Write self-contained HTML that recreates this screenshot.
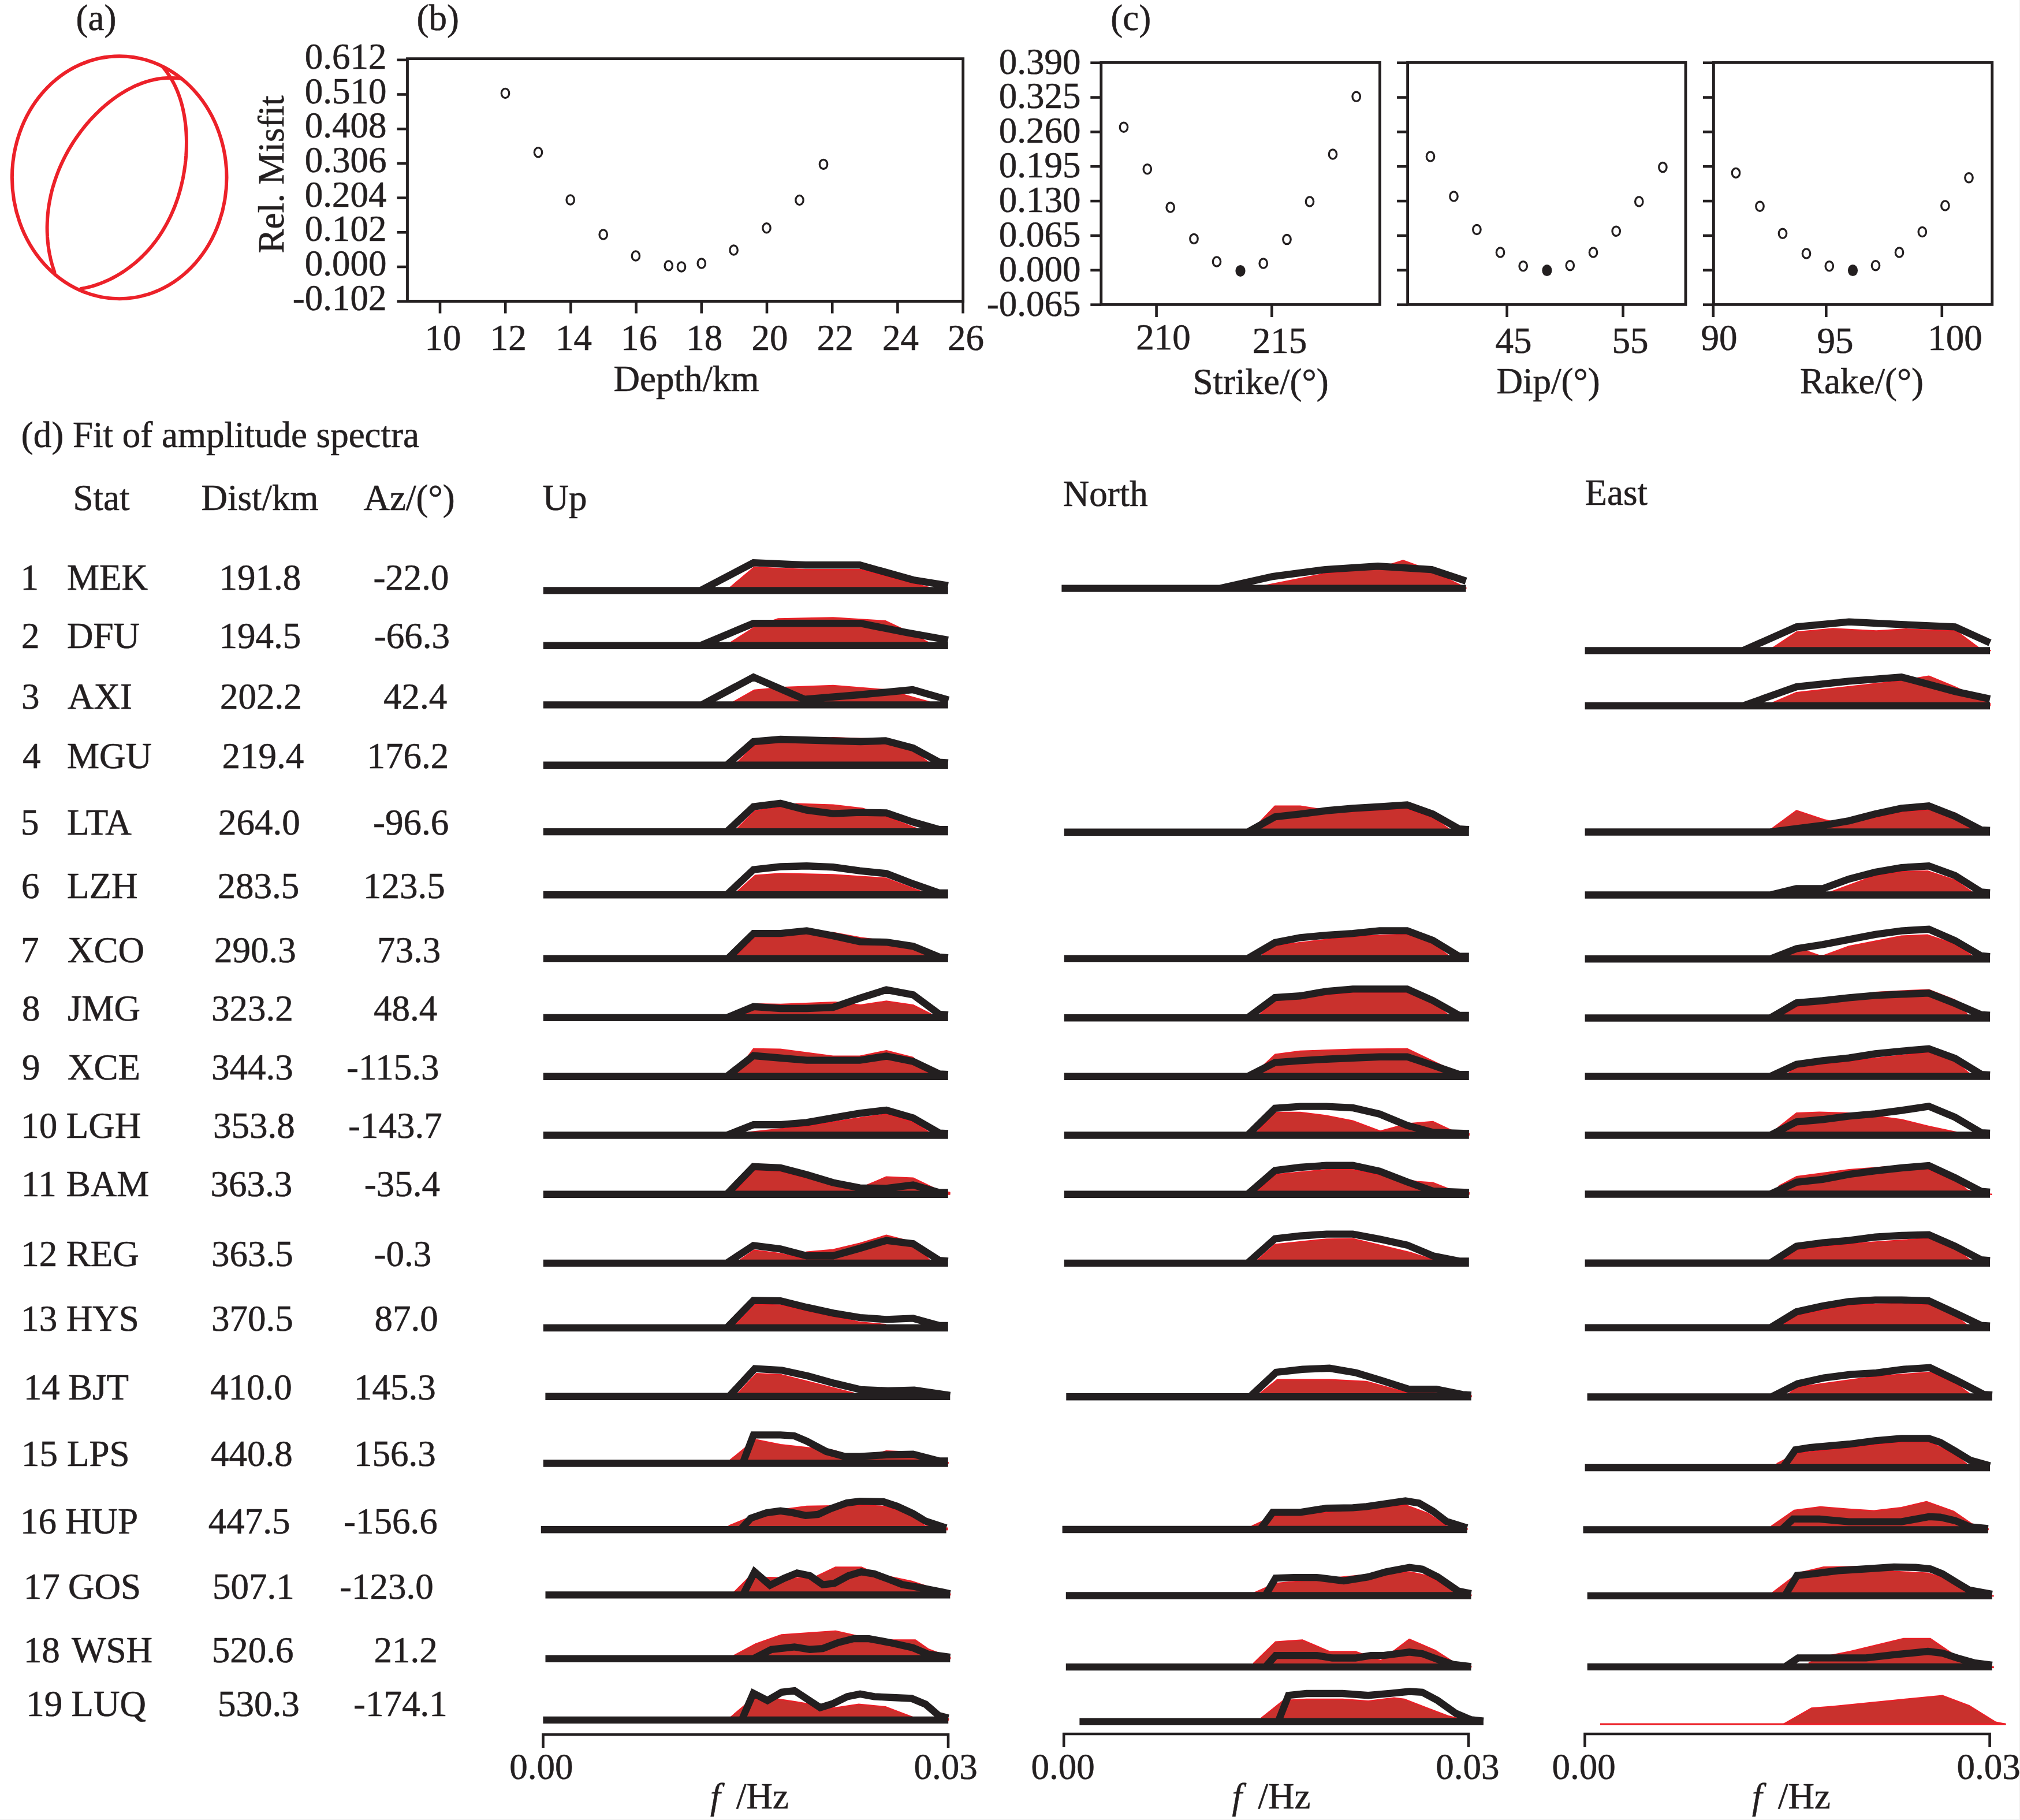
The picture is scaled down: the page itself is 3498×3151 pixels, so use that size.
<!DOCTYPE html>
<html><head><meta charset="utf-8"><title>figure</title>
<style>
html,body{margin:0;padding:0;background:#fff;}
body{width:3498px;height:3151px;overflow:hidden;}
svg{display:block;}
text{font-family:"Liberation Serif", serif;fill:#231f20;stroke:#231f20;stroke-width:0.6px;}
</style></head>
<body>
<svg width="3498" height="3151" viewBox="0 0 3498 3151">
<rect x="0" y="0" width="3498" height="3151" fill="#ffffff"/>
<rect x="3496" y="0" width="2" height="3151" fill="#f4f4f4"/>
<rect x="0" y="3149" width="3498" height="2" fill="#f4f4f4"/>
<ellipse cx="206.7" cy="307.2" rx="185.8" ry="210" fill="none" stroke="#ec2129" stroke-width="6"/>
<path d="M282.1,116.2 L287.4,122.7 L292.2,129.5 L296.5,136.4 L300.5,143.5 L304.1,150.7 L307.3,158.1 L310.1,165.6 L312.7,173.2 L314.9,181.0 L316.8,188.8 L318.4,196.6 L319.8,204.6 L320.9,212.6 L321.8,220.6 L322.4,228.7 L322.8,236.8 L323.0,245.0 L322.9,253.1 L322.7,261.3 L322.2,269.4 L321.5,277.5 L320.6,285.6 L319.4,293.7 L318.1,301.8 L316.6,309.8 L314.8,317.7 L312.9,325.6 L310.7,333.4 L308.4,341.2 L305.8,348.9 L303.0,356.5 L299.9,364.0 L296.7,371.4 L293.2,378.7 L289.5,385.9 L285.6,392.9 L281.5,399.8 L277.1,406.6 L272.6,413.3 L267.8,419.7 L262.7,426.1 L257.5,432.2 L252.0,438.2 L246.3,444.0 L240.4,449.5 L234.3,454.9 L227.9,460.0 L221.4,464.9 L214.7,469.6 L207.8,474.0 L200.8,478.1 L193.6,482.0 L186.2,485.6 L178.8,488.8 L171.2,491.7 L163.5,494.3 L155.7,496.6 L147.9,498.4 L140.1,499.9" fill="none" stroke="#ec2129" stroke-width="6" stroke-linecap="round" stroke-linejoin="round"/>
<path d="M94.4,471.1 L91.9,463.6 L89.6,456.0 L87.7,448.4 L86.0,440.6 L84.6,432.9 L83.5,425.1 L82.6,417.2 L82.0,409.4 L81.7,401.5 L81.6,393.6 L81.8,385.8 L82.2,378.0 L82.8,370.1 L83.7,362.4 L84.8,354.6 L86.2,346.9 L87.7,339.2 L89.5,331.6 L91.5,324.1 L93.8,316.6 L96.2,309.2 L98.9,301.8 L101.7,294.5 L104.8,287.3 L108.0,280.2 L111.5,273.1 L115.1,266.2 L118.9,259.3 L122.9,252.6 L127.1,245.9 L131.5,239.3 L136.0,232.9 L140.7,226.5 L145.6,220.3 L150.6,214.2 L155.8,208.3 L161.2,202.5 L166.7,196.8 L172.4,191.3 L178.2,186.0 L184.2,180.8 L190.3,175.9 L196.5,171.1 L202.9,166.6 L209.5,162.3 L216.1,158.2 L222.9,154.4 L229.9,150.8 L236.9,147.6 L244.1,144.7 L251.4,142.1 L258.8,139.8 L266.4,138.0 L274.0,136.5 L281.8,135.5 L289.7,134.9 L297.7,134.9 L305.8,135.3 L314.0,136.3" fill="none" stroke="#ec2129" stroke-width="6" stroke-linecap="round" stroke-linejoin="round"/>
<text x="131.5" y="52.0" font-size="63">(a)</text>
<text x="721.5" y="52.0" font-size="63">(b)</text>
<text x="1923.3" y="52.0" font-size="63">(c)</text>
<path d="M705.5,521.5 L705.5,101.7 L1667.7,101.7 L1667.7,521.5 Z" fill="none" stroke="#231f20" stroke-width="4.8" stroke-linejoin="miter"/>
<line x1="687.5" y1="103.8" x2="705.5" y2="103.8" stroke="#231f20" stroke-width="4.6" stroke-linecap="butt"/>
<text x="669.5" y="118.8" text-anchor="end" font-size="63">0.612</text>
<line x1="687.5" y1="163.5" x2="705.5" y2="163.5" stroke="#231f20" stroke-width="4.6" stroke-linecap="butt"/>
<text x="669.5" y="178.5" text-anchor="end" font-size="63">0.510</text>
<line x1="687.5" y1="223.2" x2="705.5" y2="223.2" stroke="#231f20" stroke-width="4.6" stroke-linecap="butt"/>
<text x="669.5" y="238.2" text-anchor="end" font-size="63">0.408</text>
<line x1="687.5" y1="282.9" x2="705.5" y2="282.9" stroke="#231f20" stroke-width="4.6" stroke-linecap="butt"/>
<text x="669.5" y="297.9" text-anchor="end" font-size="63">0.306</text>
<line x1="687.5" y1="342.6" x2="705.5" y2="342.6" stroke="#231f20" stroke-width="4.6" stroke-linecap="butt"/>
<text x="669.5" y="357.6" text-anchor="end" font-size="63">0.204</text>
<line x1="687.5" y1="402.3" x2="705.5" y2="402.3" stroke="#231f20" stroke-width="4.6" stroke-linecap="butt"/>
<text x="669.5" y="417.3" text-anchor="end" font-size="63">0.102</text>
<line x1="687.5" y1="462.0" x2="705.5" y2="462.0" stroke="#231f20" stroke-width="4.6" stroke-linecap="butt"/>
<text x="669.5" y="477.0" text-anchor="end" font-size="63">0.000</text>
<line x1="687.5" y1="521.7" x2="705.5" y2="521.7" stroke="#231f20" stroke-width="4.6" stroke-linecap="butt"/>
<text x="669.5" y="536.7" text-anchor="end" font-size="63">-0.102</text>
<line x1="762.0" y1="521.5" x2="762.0" y2="542.5" stroke="#231f20" stroke-width="4.6" stroke-linecap="butt"/>
<text x="767.0" y="606.0" text-anchor="middle" font-size="63">10</text>
<line x1="875.2" y1="521.5" x2="875.2" y2="542.5" stroke="#231f20" stroke-width="4.6" stroke-linecap="butt"/>
<text x="880.2" y="606.0" text-anchor="middle" font-size="63">12</text>
<line x1="988.4" y1="521.5" x2="988.4" y2="542.5" stroke="#231f20" stroke-width="4.6" stroke-linecap="butt"/>
<text x="993.4" y="606.0" text-anchor="middle" font-size="63">14</text>
<line x1="1101.6" y1="521.5" x2="1101.6" y2="542.5" stroke="#231f20" stroke-width="4.6" stroke-linecap="butt"/>
<text x="1106.6" y="606.0" text-anchor="middle" font-size="63">16</text>
<line x1="1214.8" y1="521.5" x2="1214.8" y2="542.5" stroke="#231f20" stroke-width="4.6" stroke-linecap="butt"/>
<text x="1219.8" y="606.0" text-anchor="middle" font-size="63">18</text>
<line x1="1328.0" y1="521.5" x2="1328.0" y2="542.5" stroke="#231f20" stroke-width="4.6" stroke-linecap="butt"/>
<text x="1333.0" y="606.0" text-anchor="middle" font-size="63">20</text>
<line x1="1441.2" y1="521.5" x2="1441.2" y2="542.5" stroke="#231f20" stroke-width="4.6" stroke-linecap="butt"/>
<text x="1446.2" y="606.0" text-anchor="middle" font-size="63">22</text>
<line x1="1554.4" y1="521.5" x2="1554.4" y2="542.5" stroke="#231f20" stroke-width="4.6" stroke-linecap="butt"/>
<text x="1559.4" y="606.0" text-anchor="middle" font-size="63">24</text>
<line x1="1667.6" y1="521.5" x2="1667.6" y2="542.5" stroke="#231f20" stroke-width="4.6" stroke-linecap="butt"/>
<text x="1672.6" y="606.0" text-anchor="middle" font-size="63">26</text>
<text transform="translate(491,302) rotate(-90)" text-anchor="middle" font-size="63">Rel. Misfit</text>
<text x="1062.5" y="677.0" font-size="63">Depth/km</text>
<ellipse cx="875" cy="161.5" rx="6.7" ry="8.1" fill="none" stroke="#231f20" stroke-width="3.3"/>
<ellipse cx="932" cy="263.8" rx="6.7" ry="8.1" fill="none" stroke="#231f20" stroke-width="3.3"/>
<ellipse cx="987.7" cy="346" rx="6.7" ry="8.1" fill="none" stroke="#231f20" stroke-width="3.3"/>
<ellipse cx="1044.7" cy="406" rx="6.7" ry="8.1" fill="none" stroke="#231f20" stroke-width="3.3"/>
<ellipse cx="1100.9" cy="443" rx="6.7" ry="8.1" fill="none" stroke="#231f20" stroke-width="3.3"/>
<ellipse cx="1157.8" cy="460" rx="6.7" ry="8.1" fill="none" stroke="#231f20" stroke-width="3.3"/>
<ellipse cx="1180" cy="462" rx="6.7" ry="8.1" fill="none" stroke="#231f20" stroke-width="3.3"/>
<ellipse cx="1214.8" cy="456" rx="6.7" ry="8.1" fill="none" stroke="#231f20" stroke-width="3.3"/>
<ellipse cx="1270.6" cy="433" rx="6.7" ry="8.1" fill="none" stroke="#231f20" stroke-width="3.3"/>
<ellipse cx="1327.5" cy="394.8" rx="6.7" ry="8.1" fill="none" stroke="#231f20" stroke-width="3.3"/>
<ellipse cx="1384.5" cy="346.5" rx="6.7" ry="8.1" fill="none" stroke="#231f20" stroke-width="3.3"/>
<ellipse cx="1426" cy="284.4" rx="6.7" ry="8.1" fill="none" stroke="#231f20" stroke-width="3.3"/>
<path d="M1906.8,527.3 L1906.8,108.3 L2389.5,108.3 L2389.5,527.3 Z" fill="none" stroke="#231f20" stroke-width="4.8"/>
<line x1="1888.3" y1="108.7" x2="1906.8" y2="108.7" stroke="#231f20" stroke-width="4.6" stroke-linecap="butt"/>
<line x1="1888.3" y1="168.6" x2="1906.8" y2="168.6" stroke="#231f20" stroke-width="4.6" stroke-linecap="butt"/>
<line x1="1888.3" y1="228.4" x2="1906.8" y2="228.4" stroke="#231f20" stroke-width="4.6" stroke-linecap="butt"/>
<line x1="1888.3" y1="288.2" x2="1906.8" y2="288.2" stroke="#231f20" stroke-width="4.6" stroke-linecap="butt"/>
<line x1="1888.3" y1="348.1" x2="1906.8" y2="348.1" stroke="#231f20" stroke-width="4.6" stroke-linecap="butt"/>
<line x1="1888.3" y1="407.9" x2="1906.8" y2="407.9" stroke="#231f20" stroke-width="4.6" stroke-linecap="butt"/>
<line x1="1888.3" y1="467.8" x2="1906.8" y2="467.8" stroke="#231f20" stroke-width="4.6" stroke-linecap="butt"/>
<line x1="1888.3" y1="527.6" x2="1906.8" y2="527.6" stroke="#231f20" stroke-width="4.6" stroke-linecap="butt"/>
<path d="M2437.6,527.3 L2437.6,108.3 L2919,108.3 L2919,527.3 Z" fill="none" stroke="#231f20" stroke-width="4.8"/>
<line x1="2419.1" y1="108.7" x2="2437.6" y2="108.7" stroke="#231f20" stroke-width="4.6" stroke-linecap="butt"/>
<line x1="2419.1" y1="168.6" x2="2437.6" y2="168.6" stroke="#231f20" stroke-width="4.6" stroke-linecap="butt"/>
<line x1="2419.1" y1="228.4" x2="2437.6" y2="228.4" stroke="#231f20" stroke-width="4.6" stroke-linecap="butt"/>
<line x1="2419.1" y1="288.2" x2="2437.6" y2="288.2" stroke="#231f20" stroke-width="4.6" stroke-linecap="butt"/>
<line x1="2419.1" y1="348.1" x2="2437.6" y2="348.1" stroke="#231f20" stroke-width="4.6" stroke-linecap="butt"/>
<line x1="2419.1" y1="407.9" x2="2437.6" y2="407.9" stroke="#231f20" stroke-width="4.6" stroke-linecap="butt"/>
<line x1="2419.1" y1="467.8" x2="2437.6" y2="467.8" stroke="#231f20" stroke-width="4.6" stroke-linecap="butt"/>
<line x1="2419.1" y1="527.6" x2="2437.6" y2="527.6" stroke="#231f20" stroke-width="4.6" stroke-linecap="butt"/>
<path d="M2967.4,527.3 L2967.4,108.3 L3449.8,108.3 L3449.8,527.3 Z" fill="none" stroke="#231f20" stroke-width="4.8"/>
<line x1="2948.9" y1="108.7" x2="2967.4" y2="108.7" stroke="#231f20" stroke-width="4.6" stroke-linecap="butt"/>
<line x1="2948.9" y1="168.6" x2="2967.4" y2="168.6" stroke="#231f20" stroke-width="4.6" stroke-linecap="butt"/>
<line x1="2948.9" y1="228.4" x2="2967.4" y2="228.4" stroke="#231f20" stroke-width="4.6" stroke-linecap="butt"/>
<line x1="2948.9" y1="288.2" x2="2967.4" y2="288.2" stroke="#231f20" stroke-width="4.6" stroke-linecap="butt"/>
<line x1="2948.9" y1="348.1" x2="2967.4" y2="348.1" stroke="#231f20" stroke-width="4.6" stroke-linecap="butt"/>
<line x1="2948.9" y1="407.9" x2="2967.4" y2="407.9" stroke="#231f20" stroke-width="4.6" stroke-linecap="butt"/>
<line x1="2948.9" y1="467.8" x2="2967.4" y2="467.8" stroke="#231f20" stroke-width="4.6" stroke-linecap="butt"/>
<line x1="2948.9" y1="527.6" x2="2967.4" y2="527.6" stroke="#231f20" stroke-width="4.6" stroke-linecap="butt"/>
<text x="1871.5" y="127.5" text-anchor="end" font-size="63">0.390</text>
<text x="1871.5" y="187.3" text-anchor="end" font-size="63">0.325</text>
<text x="1871.5" y="247.2" text-anchor="end" font-size="63">0.260</text>
<text x="1871.5" y="307.1" text-anchor="end" font-size="63">0.195</text>
<text x="1871.5" y="366.9" text-anchor="end" font-size="63">0.130</text>
<text x="1871.5" y="426.8" text-anchor="end" font-size="63">0.065</text>
<text x="1871.5" y="486.6" text-anchor="end" font-size="63">0.000</text>
<text x="1871.5" y="546.5" text-anchor="end" font-size="63">-0.065</text>
<line x1="2002.6" y1="527.3" x2="2002.6" y2="549.0" stroke="#231f20" stroke-width="4.6" stroke-linecap="butt"/>
<text x="2014.6" y="604.5" text-anchor="middle" font-size="63">210</text>
<line x1="2202.4" y1="527.3" x2="2202.4" y2="549.0" stroke="#231f20" stroke-width="4.6" stroke-linecap="butt"/>
<text x="2216.0" y="611.0" text-anchor="middle" font-size="63">215</text>
<line x1="2609.6" y1="527.3" x2="2609.6" y2="549.0" stroke="#231f20" stroke-width="4.6" stroke-linecap="butt"/>
<text x="2621.0" y="610.5" text-anchor="middle" font-size="63">45</text>
<line x1="2810.6" y1="527.3" x2="2810.6" y2="549.0" stroke="#231f20" stroke-width="4.6" stroke-linecap="butt"/>
<text x="2823.0" y="611.0" text-anchor="middle" font-size="63">55</text>
<line x1="2966.8" y1="527.3" x2="2966.8" y2="549.0" stroke="#231f20" stroke-width="4.6" stroke-linecap="butt"/>
<text x="2977.0" y="605.5" text-anchor="middle" font-size="63">90</text>
<line x1="3162.3" y1="527.3" x2="3162.3" y2="549.0" stroke="#231f20" stroke-width="4.6" stroke-linecap="butt"/>
<text x="3178.0" y="611.0" text-anchor="middle" font-size="63">95</text>
<line x1="3362.8" y1="527.3" x2="3362.8" y2="549.0" stroke="#231f20" stroke-width="4.6" stroke-linecap="butt"/>
<text x="3385.6" y="605.5" text-anchor="middle" font-size="63">100</text>
<text x="2065.5" y="682.0" font-size="63">Strike/(°)</text>
<text x="2591.5" y="681.0" font-size="63">Dip/(°)</text>
<text x="3117.0" y="681.0" font-size="63">Rake/(°)</text>
<ellipse cx="1946" cy="220.3" rx="6.7" ry="8.1" fill="none" stroke="#231f20" stroke-width="3.3"/>
<ellipse cx="1986.8" cy="292.7" rx="6.7" ry="8.1" fill="none" stroke="#231f20" stroke-width="3.3"/>
<ellipse cx="2026.7" cy="359" rx="6.7" ry="8.1" fill="none" stroke="#231f20" stroke-width="3.3"/>
<ellipse cx="2067.5" cy="413.4" rx="6.7" ry="8.1" fill="none" stroke="#231f20" stroke-width="3.3"/>
<ellipse cx="2107" cy="453" rx="6.7" ry="8.1" fill="none" stroke="#231f20" stroke-width="3.3"/>
<ellipse cx="2148" cy="468.9" rx="8.6" ry="10" fill="#231f20"/>
<ellipse cx="2187.7" cy="456" rx="6.7" ry="8.1" fill="none" stroke="#231f20" stroke-width="3.3"/>
<ellipse cx="2228.5" cy="414.6" rx="6.7" ry="8.1" fill="none" stroke="#231f20" stroke-width="3.3"/>
<ellipse cx="2268" cy="349" rx="6.7" ry="8.1" fill="none" stroke="#231f20" stroke-width="3.3"/>
<ellipse cx="2308" cy="267" rx="6.7" ry="8.1" fill="none" stroke="#231f20" stroke-width="3.3"/>
<ellipse cx="2348.7" cy="167.3" rx="6.7" ry="8.1" fill="none" stroke="#231f20" stroke-width="3.3"/>
<ellipse cx="2477" cy="271" rx="6.7" ry="8.1" fill="none" stroke="#231f20" stroke-width="3.3"/>
<ellipse cx="2517.5" cy="340" rx="6.7" ry="8.1" fill="none" stroke="#231f20" stroke-width="3.3"/>
<ellipse cx="2557.4" cy="397.5" rx="6.7" ry="8.1" fill="none" stroke="#231f20" stroke-width="3.3"/>
<ellipse cx="2598" cy="437" rx="6.7" ry="8.1" fill="none" stroke="#231f20" stroke-width="3.3"/>
<ellipse cx="2637.7" cy="460.8" rx="6.7" ry="8.1" fill="none" stroke="#231f20" stroke-width="3.3"/>
<ellipse cx="2678.9" cy="468.1" rx="8.6" ry="10" fill="#231f20"/>
<ellipse cx="2718.8" cy="459.7" rx="6.7" ry="8.1" fill="none" stroke="#231f20" stroke-width="3.3"/>
<ellipse cx="2759" cy="437" rx="6.7" ry="8.1" fill="none" stroke="#231f20" stroke-width="3.3"/>
<ellipse cx="2798.7" cy="400.3" rx="6.7" ry="8.1" fill="none" stroke="#231f20" stroke-width="3.3"/>
<ellipse cx="2838.3" cy="349" rx="6.7" ry="8.1" fill="none" stroke="#231f20" stroke-width="3.3"/>
<ellipse cx="2879.4" cy="289.6" rx="6.7" ry="8.1" fill="none" stroke="#231f20" stroke-width="3.3"/>
<ellipse cx="3006" cy="299.4" rx="6.7" ry="8.1" fill="none" stroke="#231f20" stroke-width="3.3"/>
<ellipse cx="3047.5" cy="357.2" rx="6.7" ry="8.1" fill="none" stroke="#231f20" stroke-width="3.3"/>
<ellipse cx="3087" cy="404.3" rx="6.7" ry="8.1" fill="none" stroke="#231f20" stroke-width="3.3"/>
<ellipse cx="3128" cy="439" rx="6.7" ry="8.1" fill="none" stroke="#231f20" stroke-width="3.3"/>
<ellipse cx="3167.8" cy="460.8" rx="6.7" ry="8.1" fill="none" stroke="#231f20" stroke-width="3.3"/>
<ellipse cx="3208.5" cy="468.1" rx="8.6" ry="10" fill="#231f20"/>
<ellipse cx="3248" cy="459.7" rx="6.7" ry="8.1" fill="none" stroke="#231f20" stroke-width="3.3"/>
<ellipse cx="3289" cy="437" rx="6.7" ry="8.1" fill="none" stroke="#231f20" stroke-width="3.3"/>
<ellipse cx="3328.8" cy="401.5" rx="6.7" ry="8.1" fill="none" stroke="#231f20" stroke-width="3.3"/>
<ellipse cx="3368.4" cy="356" rx="6.7" ry="8.1" fill="none" stroke="#231f20" stroke-width="3.3"/>
<ellipse cx="3409.5" cy="307.8" rx="6.7" ry="8.1" fill="none" stroke="#231f20" stroke-width="3.3"/>
<text x="36.7" y="773.5" font-size="63">(d) Fit of amplitude spectra</text>
<text x="126.5" y="882.7" font-size="63">Stat</text>
<text x="348.5" y="882.7" font-size="63">Dist/km</text>
<text x="629.5" y="882.7" font-size="63">Az/(°)</text>
<text x="939.5" y="883.2" font-size="63">Up</text>
<text x="1840.8" y="876.0" font-size="63">North</text>
<text x="2744.6" y="874.3" font-size="63">East</text>
<text x="35.4" y="1020.8" font-size="63">1</text>
<text x="116.0" y="1020.8" font-size="63">MEK</text>
<text x="379.4" y="1020.8" font-size="63">191.8</text>
<text x="646.4" y="1020.8" font-size="63">-22.0</text>
<text x="37.0" y="1122.4" font-size="63">2</text>
<text x="116.0" y="1122.4" font-size="63">DFU</text>
<text x="379.4" y="1122.4" font-size="63">194.5</text>
<text x="647.7" y="1122.4" font-size="63">-66.3</text>
<text x="37.0" y="1227.0" font-size="63">3</text>
<text x="117.0" y="1227.0" font-size="63">AXI</text>
<text x="381.0" y="1227.0" font-size="63">202.2</text>
<text x="664.0" y="1227.0" font-size="63">42.4</text>
<text x="39.0" y="1329.5" font-size="63">4</text>
<text x="116.0" y="1329.5" font-size="63">MGU</text>
<text x="384.6" y="1329.5" font-size="63">219.4</text>
<text x="635.6" y="1329.5" font-size="63">176.2</text>
<text x="36.0" y="1445.3" font-size="63">5</text>
<text x="116.0" y="1445.3" font-size="63">LTA</text>
<text x="378.0" y="1445.3" font-size="63">264.0</text>
<text x="646.0" y="1445.3" font-size="63">-96.6</text>
<text x="37.0" y="1554.5" font-size="63">6</text>
<text x="116.0" y="1554.5" font-size="63">LZH</text>
<text x="376.6" y="1554.5" font-size="63">283.5</text>
<text x="629.0" y="1554.5" font-size="63">123.5</text>
<text x="36.0" y="1665.8" font-size="63">7</text>
<text x="117.0" y="1665.8" font-size="63">XCO</text>
<text x="371.0" y="1665.8" font-size="63">290.3</text>
<text x="653.0" y="1665.8" font-size="63">73.3</text>
<text x="38.0" y="1767.0" font-size="63">8</text>
<text x="117.0" y="1767.0" font-size="63">JMG</text>
<text x="366.0" y="1767.0" font-size="63">323.2</text>
<text x="647.0" y="1767.0" font-size="63">48.4</text>
<text x="38.0" y="1868.6" font-size="63">9</text>
<text x="117.0" y="1868.6" font-size="63">XCE</text>
<text x="366.0" y="1868.6" font-size="63">344.3</text>
<text x="600.0" y="1868.6" font-size="63">-115.3</text>
<text x="36.3" y="1970.3" font-size="63">10</text>
<text x="114.7" y="1970.3" font-size="63">LGH</text>
<text x="369.0" y="1970.3" font-size="63">353.8</text>
<text x="603.0" y="1970.3" font-size="63">-143.7</text>
<text x="37.0" y="2071.4" font-size="63">11</text>
<text x="114.7" y="2071.4" font-size="63">BAM</text>
<text x="364.6" y="2071.4" font-size="63">363.3</text>
<text x="630.7" y="2071.4" font-size="63">-35.4</text>
<text x="36.3" y="2191.7" font-size="63">12</text>
<text x="114.7" y="2191.7" font-size="63">REG</text>
<text x="366.0" y="2191.7" font-size="63">363.5</text>
<text x="647.6" y="2191.7" font-size="63">-0.3</text>
<text x="36.3" y="2303.6" font-size="63">13</text>
<text x="114.7" y="2303.6" font-size="63">HYS</text>
<text x="366.0" y="2303.6" font-size="63">370.5</text>
<text x="648.5" y="2303.6" font-size="63">87.0</text>
<text x="40.8" y="2422.5" font-size="63">14</text>
<text x="118.0" y="2422.5" font-size="63">BJT</text>
<text x="364.0" y="2422.5" font-size="63">410.0</text>
<text x="613.0" y="2422.5" font-size="63">145.3</text>
<text x="37.0" y="2537.5" font-size="63">15</text>
<text x="116.0" y="2537.5" font-size="63">LPS</text>
<text x="365.0" y="2537.5" font-size="63">440.8</text>
<text x="613.0" y="2537.5" font-size="63">156.3</text>
<text x="35.0" y="2654.7" font-size="63">16</text>
<text x="113.0" y="2654.7" font-size="63">HUP</text>
<text x="360.8" y="2654.7" font-size="63">447.5</text>
<text x="595.0" y="2654.7" font-size="63">-156.6</text>
<text x="40.8" y="2768.3" font-size="63">17</text>
<text x="118.0" y="2768.3" font-size="63">GOS</text>
<text x="368.0" y="2768.3" font-size="63">507.1</text>
<text x="588.0" y="2768.3" font-size="63">-123.0</text>
<text x="40.8" y="2878.4" font-size="63">18</text>
<text x="124.0" y="2878.4" font-size="63">WSH</text>
<text x="366.7" y="2878.4" font-size="63">520.6</text>
<text x="647.5" y="2878.4" font-size="63">21.2</text>
<text x="45.2" y="2971.0" font-size="63">19</text>
<text x="123.6" y="2971.0" font-size="63">LUQ</text>
<text x="377.0" y="2971.0" font-size="63">530.3</text>
<text x="612.0" y="2971.0" font-size="63">-174.1</text>
<path d="M1264.4,1017.0 L1305.9,982.2 L1395.0,986.1 L1490.1,986.1 L1608.9,1017.0 L1608.9,1022.4 L1264.4,1022.4 Z M1264.4,1112.9 L1307.9,1085.1 L1347.5,1071.3 L1442.6,1069.3 L1533.7,1075.2 L1561.4,1088.3 L1608.9,1112.9 L1608.9,1117.8 L1264.4,1117.8 Z M1270.3,1215.0 L1305.9,1194.9 L1355.4,1190.1 L1442.6,1186.9 L1533.7,1194.1 L1608.9,1215.0 L1608.9,1220.4 L1270.3,1220.4 Z M1276.2,1320.8 L1307.9,1289.1 L1442.6,1277.2 L1529.7,1280.0 L1581.2,1299.0 L1608.9,1320.8 L1608.9,1324.8 L1276.2,1324.8 Z M1276.2,1435.1 L1307.9,1403.5 L1351.5,1397.5 L1379.2,1391.6 L1442.6,1393.6 L1494.1,1399.5 L1533.7,1413.4 L1589.1,1435.1 L1589.1,1440.1 L1276.2,1440.1 Z M1276.2,1544.1 L1307.9,1515.5 L1351.5,1512.4 L1442.6,1514.4 L1533.7,1520.3 L1597.0,1544.1 L1597.0,1549.2 L1276.2,1549.2 Z M1274.3,1655.0 L1307.9,1621.3 L1351.5,1621.3 L1397.0,1616.1 L1442.6,1614.6 L1490.1,1623.3 L1534.9,1629.2 L1581.2,1641.1 L1606.9,1655.0 L1606.9,1659.7 L1274.3,1659.7 Z M1292.1,1755.9 L1307.9,1738.1 L1351.5,1738.9 L1446.5,1735.0 L1490.1,1740.1 L1534.9,1733.4 L1581.2,1740.1 L1612.9,1755.9 L1612.9,1761.9 L1292.1,1761.9 Z M1272.3,1859.4 L1304.8,1815.8 L1351.5,1816.6 L1442.6,1828.5 L1488.9,1828.5 L1534.9,1819.0 L1581.2,1830.9 L1608.9,1859.4 L1608.9,1863.8 L1272.3,1863.8 Z M1296.0,1960.4 L1397.0,1949.7 L1488.9,1935.4 L1534.9,1928.7 L1581.2,1942.6 L1608.9,1960.4 L1608.9,1965.5 L1296.0,1965.5 Z M1274.3,2061.4 L1305.9,2025.7 L1351.5,2027.7 L1397.0,2039.6 L1486.1,2061.4 L1502.0,2051.5 L1534.9,2037.6 L1581.2,2039.6 L1626.7,2061.4 L1644.6,2064.6 L1644.6,2067.7 L1274.3,2067.7 Z M1282.2,2181.0 L1305.9,2164.4 L1351.5,2170.3 L1387.1,2178.2 L1397.0,2167.5 L1442.6,2163.6 L1488.9,2152.5 L1534.9,2138.6 L1581.2,2150.5 L1608.9,2181.0 L1608.9,2186.9 L1282.2,2186.9 Z M1274.3,2293.1 L1307.9,2258.6 L1351.5,2259.4 L1488.9,2289.1 L1533.7,2293.1 L1533.7,2299.0 L1274.3,2299.0 Z M1278.2,2411.9 L1309.9,2378.2 L1353.5,2380.2 L1478.2,2411.9 L1478.2,2417.8 L1278.2,2417.8 Z M1264.4,2527.9 L1307.9,2492.3 L1351.5,2501.0 L1403.0,2506.9 L1442.6,2510.9 L1462.4,2516.8 L1509.9,2518.8 L1534.9,2512.1 L1581.2,2514.1 L1612.9,2526.7 L1641.8,2531.9 L1641.8,2533.5 L1264.4,2533.5 Z M1262.4,2641.6 L1296.0,2627.7 L1351.5,2613.9 L1397.0,2607.9 L1442.6,2607.1 L1488.9,2605.9 L1529.7,2607.9 L1581.2,2621.8 L1601.0,2641.6 L1640.6,2645.5 L1640.6,2648.3 L1262.4,2648.3 Z M1271.0,2756.9 L1295.6,2732.4 L1333.4,2731.1 L1375.8,2732.4 L1411.4,2730.2 L1447.0,2713.3 L1491.6,2713.3 L1518.3,2724.9 L1580.7,2738.2 L1607.4,2747.1 L1645.3,2759.2 L1645.3,2761.4 L1271.0,2761.4 Z M1271.0,2866.1 L1308.9,2846.0 L1353.5,2830.4 L1447.0,2823.8 L1487.1,2832.7 L1540.6,2839.4 L1585.2,2839.4 L1607.4,2855.0 L1645.3,2869.2 L1645.3,2871.7 L1271.0,2871.7 Z M1265.3,2973.0 L1302.2,2941.8 L1340.1,2940.5 L1378.0,2946.3 L1442.6,2957.4 L1487.1,2950.7 L1533.9,2955.2 L1580.7,2973.0 L1642.2,2975.3 L1642.2,2977.9 L1265.3,2977.9 Z M2190.1,1013.9 L2295.0,992.9 L2386.1,984.2 L2429.7,970.3 L2473.3,986.1 L2538.6,1017.8 L2538.6,1018.6 L2190.1,1018.6 Z M2170.3,1435.1 L2207.9,1395.5 L2251.5,1395.5 L2283.2,1400.7 L2342.6,1405.4 L2433.7,1399.5 L2481.2,1415.3 L2508.9,1435.1 L2508.9,1440.7 L2170.3,1440.7 Z M2186.1,1653.0 L2207.9,1637.1 L2342.6,1621.3 L2436.8,1617.3 L2481.2,1633.2 L2508.9,1655.0 L2508.9,1659.7 L2186.1,1659.7 Z M2180.2,1757.9 L2207.9,1732.2 L2297.0,1722.3 L2342.6,1718.3 L2436.8,1718.3 L2481.2,1736.1 L2508.9,1757.9 L2508.9,1762.3 L2180.2,1762.3 Z M2172.3,1859.4 L2207.9,1825.7 L2251.5,1819.8 L2342.6,1816.6 L2436.8,1815.8 L2499.0,1845.5 L2526.7,1859.4 L2526.7,1863.8 L2172.3,1863.8 Z M2176.2,1960.4 L2207.9,1925.9 L2251.5,1925.9 L2297.0,1931.5 L2342.6,1940.6 L2390.1,1958.4 L2436.8,1945.7 L2481.2,1941.8 L2516.8,1958.4 L2543.8,1962.4 L2543.8,1965.5 L2176.2,1965.5 Z M2178.2,2061.4 L2207.9,2033.7 L2297.0,2025.0 L2342.6,2025.0 L2386.1,2033.7 L2453.5,2045.5 L2481.2,2047.5 L2516.8,2061.4 L2543.8,2064.6 L2543.8,2067.7 L2178.2,2067.7 Z M2178.2,2181.0 L2207.9,2154.5 L2297.0,2145.3 L2342.6,2144.6 L2441.6,2168.3 L2481.2,2181.0 L2481.2,2186.9 L2178.2,2186.9 Z M2182.2,2412.4 L2211.9,2388.6 L2303.0,2388.6 L2366.3,2391.8 L2433.7,2410.4 L2489.1,2412.4 L2547.7,2416.3 L2547.7,2418.3 L2182.2,2418.3 Z M2168.3,2642.1 L2204.0,2625.4 L2297.0,2618.3 L2433.7,2605.6 L2473.3,2620.3 L2505.0,2642.1 L2540.6,2646.0 L2540.6,2648.0 L2168.3,2648.0 Z M2173.3,2756.9 L2208.9,2741.3 L2373.8,2725.7 L2440.6,2721.3 L2471.8,2728.0 L2525.3,2756.9 L2547.5,2761.4 L2547.5,2762.5 L2173.3,2762.5 Z M2171.0,2879.5 L2208.9,2842.5 L2255.7,2839.4 L2302.5,2859.4 L2347.0,2859.4 L2391.6,2875.0 L2440.6,2838.0 L2485.2,2857.2 L2516.4,2877.2 L2547.5,2885.3 L2547.5,2886.1 L2171.0,2886.1 Z M2184.4,2974.4 L2222.3,2944.1 L2262.4,2941.8 L2324.8,2941.8 L2369.3,2945.0 L2413.9,2939.6 L2431.7,2941.8 L2471.8,2957.4 L2507.4,2970.8 L2534.2,2977.5 L2534.2,2980.8 L2184.4,2980.8 Z M3069.4,1122.0 L3110.9,1094.4 L3174.1,1088.4 L3249.2,1092.4 L3300.6,1089.2 L3387.5,1092.4 L3427.0,1122.0 L3446.7,1126.4 L3446.7,1126.4 L3069.4,1126.4 Z M3069.4,1216.8 L3110.9,1199.1 L3292.7,1178.5 L3340.1,1170.6 L3385.5,1189.2 L3446.0,1218.0 L3446.0,1222.0 L3069.4,1222.0 Z M3069.4,1433.8 L3110.9,1403.3 L3158.3,1419.1 L3193.9,1427.0 L3247.2,1415.2 L3292.7,1405.3 L3340.1,1402.2 L3385.5,1407.3 L3411.2,1434.9 L3411.2,1440.5 L3069.4,1440.5 Z M3170.2,1544.4 L3247.2,1515.9 L3292.7,1508.8 L3338.1,1508.0 L3385.5,1523.8 L3415.1,1544.4 L3415.1,1549.5 L3170.2,1549.5 Z M3095.1,1654.2 L3110.9,1640.4 L3150.4,1654.2 L3158.3,1654.2 L3201.8,1638.4 L3292.7,1620.6 L3338.1,1618.7 L3385.5,1634.5 L3415.1,1655.0 L3415.1,1660.2 L3095.1,1660.2 Z M3089.2,1755.0 L3110.9,1743.1 L3247.2,1718.2 L3292.7,1715.5 L3340.1,1713.5 L3385.5,1731.3 L3407.2,1757.0 L3407.2,1762.5 L3089.2,1762.5 Z M3095.1,1859.3 L3110.9,1847.4 L3340.1,1821.7 L3385.5,1837.5 L3411.2,1859.3 L3411.2,1863.6 L3095.1,1863.6 Z M3071.4,1962.0 L3079.3,1952.1 L3110.9,1927.2 L3150.4,1925.6 L3201.8,1927.2 L3247.2,1932.4 L3292.7,1938.3 L3340.1,1950.1 L3387.5,1960.0 L3387.5,1965.5 L3071.4,1965.5 Z M3073.4,2063.9 L3081.3,2052.9 L3110.9,2037.1 L3201.8,2025.2 L3292.7,2018.1 L3340.1,2025.2 L3391.4,2046.9 L3407.2,2060.8 L3448.7,2067.9 L3448.7,2067.5 L3073.4,2067.5 Z M3087.2,2181.3 L3110.9,2163.5 L3201.8,2153.6 L3340.1,2143.7 L3385.5,2161.5 L3411.2,2181.3 L3411.2,2186.8 L3087.2,2186.8 Z M3087.2,2294.0 L3110.9,2277.0 L3201.8,2259.3 L3292.7,2256.5 L3340.1,2258.5 L3385.5,2277.0 L3407.2,2294.8 L3407.2,2298.8 L3087.2,2298.8 Z M3097.1,2413.4 L3112.9,2401.5 L3249.2,2382.9 L3342.0,2375.8 L3387.5,2395.6 L3411.2,2413.4 L3411.2,2418.5 L3097.1,2418.5 Z M3077.3,2533.9 L3110.9,2516.1 L3201.8,2506.2 L3292.7,2496.3 L3340.1,2496.3 L3385.5,2518.1 L3407.2,2535.8 L3407.2,2541.0 L3077.3,2541.0 Z M3067.4,2642.5 L3107.0,2614.9 L3152.4,2608.9 L3201.8,2612.9 L3245.2,2615.6 L3292.7,2610.1 L3336.1,2599.8 L3383.5,2616.8 L3415.1,2638.6 L3442.8,2646.5 L3442.8,2648.4 L3067.4,2648.4 Z M3069.8,2757.1 L3113.9,2723.5 L3158.0,2713.0 L3225.1,2712.1 L3279.7,2720.5 L3338.5,2723.5 L3372.1,2734.0 L3405.7,2757.1 L3451.8,2763.4 L3451.8,2762.9 L3069.8,2762.9 Z M3132.8,2878.8 L3158.0,2868.3 L3204.2,2859.1 L3296.5,2836.8 L3342.7,2836.8 L3388.9,2868.3 L3405.7,2880.1 L3451.8,2887.2 L3451.8,2885.9 L3132.8,2885.9 Z" fill="#c9312d" stroke="#ec1f27" stroke-width="2.2" stroke-linejoin="round"/>
<path d="M3088.7,2985.2 L3088.7,2985.0 L3137.0,2957.3 L3174.8,2954.4 L3279.7,2943.9 L3363.7,2935.5 L3409.9,2953.1 L3456.0,2981.7 L3472.8,2985.0 L3472.8,2985.2 Z" fill="#c9312d" stroke="#ec1f27" stroke-width="2.2"/>
<line x1="2770.9" y1="2985.2" x2="3472.8" y2="2985.2" stroke="#ec1f27" stroke-width="3.2" stroke-linecap="butt"/>
<path d="M940.8,1022.4 L1641.8,1022.4 M1212.9,1022.4 L1304.8,974.3 L1395.0,978.2 L1488.9,978.2 L1581.2,1004.0 L1641.8,1013.9 M940.8,1117.8 L1641.8,1117.8 M1212.9,1117.8 L1304.8,1079.2 L1490.1,1079.2 L1569.3,1095.0 L1641.8,1108.1 M940.8,1220.4 L1641.8,1220.4 M1214.9,1220.4 L1304.8,1172.3 L1393.1,1210.7 L1490.1,1202.8 L1580.4,1194.1 L1642.6,1211.9 M940.8,1324.8 L1641.8,1324.8 M1258.4,1324.8 L1304.8,1284.0 L1351.5,1280.0 L1490.1,1284.0 L1533.7,1282.4 L1581.2,1295.0 L1626.7,1319.6 L1641.8,1320.8 M940.8,1440.1 L1641.8,1440.1 M1258.4,1440.1 L1304.8,1396.7 L1351.5,1390.8 L1397.0,1402.7 L1442.6,1408.6 L1488.9,1406.6 L1534.9,1407.4 L1581.2,1423.3 L1626.7,1436.3 L1641.8,1436.3 M940.8,1549.2 L1641.8,1549.2 M1258.4,1549.2 L1304.8,1505.6 L1351.5,1500.5 L1397.0,1499.3 L1442.6,1501.3 L1488.9,1507.6 L1534.9,1512.4 L1581.2,1530.2 L1626.7,1546.0 L1641.8,1546.0 M940.8,1659.7 L1641.8,1659.7 M1260.4,1659.7 L1304.8,1616.1 L1351.5,1616.1 L1397.0,1611.4 L1442.6,1620.1 L1488.9,1630.4 L1534.9,1631.2 L1581.2,1638.3 L1626.7,1656.9 L1641.8,1658.1 M940.8,1761.9 L1641.8,1761.9 M1258.4,1761.9 L1304.8,1742.9 L1351.5,1746.0 L1397.0,1746.0 L1442.6,1744.1 L1488.9,1728.2 L1534.9,1713.6 L1581.2,1722.3 L1626.7,1755.9 L1641.8,1757.1 M940.8,1863.8 L1641.8,1863.8 M1258.4,1863.8 L1304.8,1827.7 L1351.5,1831.7 L1397.0,1835.6 L1442.6,1835.6 L1488.9,1835.6 L1534.9,1828.5 L1581.2,1837.6 L1626.7,1859.4 L1641.8,1860.2 M940.8,1965.5 L1641.8,1965.5 M1258.4,1965.5 L1304.8,1947.3 L1351.5,1947.3 L1397.0,1943.4 L1442.6,1935.4 L1488.9,1927.5 L1534.9,1922.0 L1581.2,1935.4 L1626.7,1961.6 L1641.8,1962.4 M940.8,2067.7 L1641.8,2067.7 M1258.4,2067.7 L1304.8,2019.8 L1351.5,2021.8 L1397.0,2033.7 L1442.6,2047.5 L1488.9,2056.6 L1534.9,2057.4 L1581.2,2051.5 L1626.7,2064.6 L1641.8,2064.6 M940.8,2186.9 L1641.8,2186.9 M1258.4,2186.9 L1304.8,2156.4 L1351.5,2162.4 L1397.0,2174.3 L1442.6,2174.3 L1488.9,2161.2 L1534.9,2147.7 L1581.2,2153.3 L1626.7,2182.2 L1641.8,2183.4 M940.8,2299.0 L1641.8,2299.0 M1258.4,2299.0 L1304.8,2251.5 L1351.5,2252.3 L1397.0,2263.4 L1442.6,2273.3 L1488.9,2281.2 L1534.9,2284.4 L1581.2,2282.4 L1626.7,2295.0 L1641.8,2295.0 M944.4,2417.8 L1645.3,2417.8 M1262.4,2417.8 L1307.1,2369.5 L1353.5,2372.3 L1399.0,2382.2 L1444.6,2394.9 L1490.1,2405.9 L1537.6,2407.9 L1583.2,2406.7 L1645.3,2415.8 M940.8,2533.5 L1641.8,2533.5 M1286.1,2533.5 L1304.8,2484.4 L1351.5,2484.4 L1375.2,2485.9 L1397.0,2495.0 L1430.7,2512.9 L1462.4,2521.6 L1488.9,2521.6 L1534.9,2518.8 L1581.2,2517.6 L1626.7,2529.5 L1641.8,2529.5 M936.8,2648.3 L1638.6,2648.3 M1282.2,2648.3 L1300.0,2628.5 L1327.7,2619.0 L1351.5,2615.8 L1371.3,2618.6 L1395.0,2623.8 L1416.8,2621.8 L1438.6,2611.9 L1466.3,2602.0 L1488.9,2599.2 L1529.7,2600.0 L1553.5,2607.9 L1581.2,2620.6 L1603.0,2633.7 L1638.6,2645.5 M944.5,2761.4 L1645.3,2761.4 M1286.6,2761.4 L1306.7,2721.3 L1333.4,2744.5 L1357.9,2732.4 L1380.2,2723.5 L1402.5,2728.0 L1424.8,2743.6 L1444.8,2741.3 L1469.3,2728.0 L1491.6,2721.3 L1513.9,2724.9 L1540.6,2734.7 L1562.9,2743.6 L1585.2,2747.1 L1607.4,2751.6 L1634.2,2756.9 L1645.3,2759.2 M944.5,2871.7 L1645.3,2871.7 M1304.5,2871.7 L1335.7,2855.8 L1375.8,2851.4 L1402.5,2855.8 L1424.8,2854.1 L1451.5,2843.8 L1478.2,2837.1 L1505.0,2837.1 L1540.6,2843.8 L1580.7,2852.7 L1607.4,2863.9 L1645.3,2869.2 M940.4,2977.9 L1642.2,2977.9 M1284.4,2977.9 L1304.5,2931.6 L1329.0,2944.1 L1353.5,2929.8 L1375.8,2927.1 L1420.3,2956.5 L1442.6,2949.4 L1467.1,2937.4 L1489.4,2932.9 L1513.9,2937.4 L1540.6,2938.7 L1578.5,2940.5 L1603.0,2950.7 L1625.3,2969.9 L1642.2,2974.4 M1838.4,1018.6 L2538.6,1018.6 M2112.9,1018.6 L2204.0,998.0 L2295.0,986.1 L2386.1,980.2 L2479.2,986.1 L2538.6,1005.9 M1842.8,1440.7 L2543.8,1440.7 M2160.4,1440.7 L2207.9,1414.2 L2251.5,1409.4 L2297.0,1403.5 L2342.6,1399.5 L2388.9,1396.7 L2436.8,1393.6 L2481.2,1409.4 L2526.7,1435.1 L2543.8,1436.3 M1842.8,1659.7 L2543.8,1659.7 M2160.4,1659.7 L2207.9,1632.0 L2251.5,1623.3 L2297.0,1619.3 L2342.6,1616.1 L2388.9,1611.4 L2436.8,1611.4 L2481.2,1628.0 L2526.7,1655.7 L2543.8,1655.7 M1842.8,1762.3 L2543.8,1762.3 M2160.4,1762.3 L2207.9,1727.0 L2251.5,1724.3 L2297.0,1716.3 L2342.6,1712.4 L2388.9,1712.4 L2436.8,1712.4 L2481.2,1732.2 L2526.7,1757.9 L2543.8,1757.9 M1842.8,1863.8 L2543.8,1863.8 M2160.4,1863.8 L2207.9,1839.6 L2251.5,1836.4 L2297.0,1833.7 L2342.6,1831.7 L2388.9,1829.7 L2436.8,1829.7 L2481.2,1844.4 L2526.7,1860.2 L2543.8,1860.2 M1842.8,1965.5 L2543.8,1965.5 M2160.4,1965.5 L2207.9,1918.8 L2251.5,1915.6 L2297.0,1915.6 L2342.6,1918.0 L2388.9,1928.7 L2436.8,1948.5 L2481.2,1960.4 L2543.8,1962.4 M1842.8,2067.7 L2543.8,2067.7 M2160.4,2067.7 L2207.9,2026.5 L2251.5,2021.0 L2297.0,2017.8 L2342.6,2017.8 L2388.9,2027.7 L2436.8,2046.3 L2481.2,2062.2 L2543.8,2064.6 M1842.8,2186.9 L2543.8,2186.9 M2160.4,2186.9 L2207.9,2144.6 L2251.5,2139.8 L2297.0,2136.6 L2342.6,2136.6 L2388.9,2145.3 L2436.8,2155.6 L2481.2,2174.3 L2526.7,2183.4 L2543.8,2183.4 M1846.3,2418.3 L2547.7,2418.3 M2164.4,2418.3 L2209.9,2375.9 L2255.4,2370.8 L2302.2,2368.8 L2348.5,2376.7 L2394.1,2390.6 L2439.6,2405.2 L2487.1,2405.2 L2532.7,2414.4 L2547.7,2415.5 M1839.6,2648.0 L2540.6,2648.0 M2182.2,2648.0 L2204.0,2618.3 L2251.5,2618.3 L2297.0,2611.2 L2342.6,2610.4 L2366.3,2608.4 L2433.7,2598.5 L2457.4,2602.5 L2481.2,2616.3 L2505.0,2634.2 L2540.6,2645.2 M1845.8,2762.5 L2547.5,2762.5 M2191.1,2762.5 L2208.9,2732.4 L2240.1,2731.1 L2280.2,2731.1 L2327.0,2736.9 L2369.3,2730.2 L2400.5,2721.3 L2440.6,2713.7 L2462.9,2716.8 L2489.6,2730.2 L2525.3,2754.7 L2547.5,2759.2 M1845.8,2886.1 L2547.5,2886.1 M2191.1,2886.1 L2208.9,2866.1 L2280.2,2866.1 L2306.9,2870.5 L2347.0,2870.5 L2373.8,2866.1 L2396.1,2866.1 L2440.6,2860.3 L2462.9,2863.0 L2489.6,2872.8 L2516.4,2881.7 L2547.5,2885.3 M1869.4,2980.8 L2568.9,2980.8 M2213.4,2980.8 L2231.2,2935.2 L2262.4,2932.0 L2324.8,2932.0 L2369.3,2935.2 L2409.4,2931.6 L2440.6,2928.5 L2462.9,2929.8 L2489.6,2944.1 L2520.8,2966.3 L2547.5,2977.5 L2568.9,2979.7 M2744.6,1126.4 L3446.0,1126.4 M3018.1,1126.4 L3110.9,1085.3 L3201.8,1076.6 L3292.7,1081.3 L3385.5,1085.3 L3446.0,1112.9 M2744.6,1222.0 L3446.0,1222.0 M3018.1,1222.0 L3110.9,1189.2 L3201.8,1179.3 L3292.7,1172.2 L3385.5,1197.1 L3446.0,1210.1 M2744.6,1440.5 L3446.0,1440.5 M3065.5,1440.5 L3156.3,1429.0 L3201.8,1421.1 L3247.2,1409.3 L3292.7,1399.4 L3340.1,1395.4 L3385.5,1413.2 L3430.9,1436.9 L3446.0,1437.7 M2744.6,1549.5 L3446.0,1549.5 M3065.5,1549.5 L3110.9,1538.5 L3156.3,1538.5 L3201.8,1521.9 L3247.2,1510.0 L3292.7,1502.1 L3340.1,1499.3 L3385.5,1515.9 L3430.9,1544.4 L3446.0,1545.6 M2744.6,1660.2 L3446.0,1660.2 M3065.5,1660.2 L3110.9,1642.4 L3156.3,1635.3 L3201.8,1626.6 L3247.2,1617.9 L3292.7,1611.6 L3340.1,1608.8 L3385.5,1628.5 L3430.9,1655.0 L3446.0,1656.2 M2744.6,1762.5 L3446.0,1762.5 M3065.5,1762.5 L3110.9,1736.4 L3156.3,1732.5 L3201.8,1727.3 L3247.2,1723.4 L3292.7,1721.4 L3340.1,1719.4 L3385.5,1737.2 L3430.9,1757.0 L3446.0,1757.7 M2744.6,1863.6 L3446.0,1863.6 M3065.5,1863.6 L3110.9,1842.7 L3156.3,1836.3 L3201.8,1831.6 L3247.2,1824.5 L3292.7,1819.8 L3340.1,1815.8 L3385.5,1832.4 L3430.9,1860.1 L3446.0,1861.2 M2744.6,1965.5 L3446.0,1965.5 M3065.5,1965.5 L3110.9,1942.2 L3156.3,1938.3 L3201.8,1932.4 L3247.2,1928.4 L3292.7,1922.5 L3340.1,1915.4 L3385.5,1934.3 L3430.9,1961.2 L3446.0,1962.0 M2744.6,2067.5 L3446.0,2067.5 M3065.5,2067.5 L3110.9,2046.9 L3156.3,2041.8 L3201.8,2033.1 L3247.2,2027.2 L3292.7,2022.0 L3340.1,2018.1 L3385.5,2039.0 L3430.9,2062.7 L3446.0,2063.9 M2744.6,2186.8 L3446.0,2186.8 M3065.5,2186.8 L3110.9,2157.6 L3156.3,2151.6 L3201.8,2147.7 L3247.2,2141.8 L3292.7,2139.0 L3340.1,2137.8 L3385.5,2157.6 L3430.9,2181.3 L3446.0,2182.5 M2744.6,2298.8 L3446.0,2298.8 M3065.5,2298.8 L3110.9,2271.1 L3156.3,2261.2 L3201.8,2253.3 L3247.2,2250.6 L3292.7,2250.6 L3340.1,2252.2 L3385.5,2273.1 L3430.9,2294.8 L3446.0,2295.6 M2748.6,2418.5 L3449.9,2418.5 M3067.4,2418.5 L3112.9,2395.6 L3158.3,2385.7 L3203.8,2379.8 L3249.2,2377.0 L3296.6,2370.7 L3342.0,2367.9 L3387.5,2389.6 L3434.9,2414.1 L3449.9,2415.3 M2744.6,2541.0 L3446.0,2541.0 M3087.2,2541.0 L3108.9,2510.2 L3134.6,2506.2 L3201.8,2500.3 L3247.2,2494.4 L3292.7,2490.4 L3340.1,2490.4 L3359.8,2497.1 L3385.5,2512.1 L3411.2,2527.9 L3446.0,2537.8 M2741.5,2648.4 L3442.8,2648.4 M3085.2,2648.4 L3105.0,2629.9 L3150.4,2629.9 L3201.8,2634.6 L3292.7,2634.6 L3340.1,2625.9 L3359.8,2626.7 L3385.5,2632.6 L3411.2,2643.3 L3442.8,2646.5 M2748.7,2762.9 L3449.7,2762.9 M3090.8,2762.9 L3111.8,2727.7 L3132.8,2725.6 L3183.2,2719.3 L3231.4,2716.3 L3279.7,2713.0 L3317.5,2713.8 L3342.7,2716.3 L3363.7,2724.7 L3388.9,2740.3 L3409.9,2752.9 L3449.7,2760.0 M2748.7,2885.9 L3449.7,2885.9 M3090.8,2885.9 L3113.9,2870.4 L3158.0,2870.4 L3231.4,2870.4 L3279.7,2864.9 L3338.5,2859.1 L3363.7,2862.0 L3388.9,2870.4 L3418.3,2878.8 L3449.7,2883.0" fill="none" stroke="#231f20" stroke-width="12.4" stroke-linejoin="miter" stroke-miterlimit="10"/>
<path d="M940.5,3026 L940.5,3003 L1642,3003 L1642,3026" fill="none" stroke="#231f20" stroke-width="4.6"/>
<text x="882.3" y="3080.0" font-size="63">0.00</text>
<text x="1582.5" y="3080.0" font-size="63">0.03</text>
<text x="1230.0" y="3131" font-size="63" font-style="italic">f</text>
<text x="1275.0" y="3131" font-size="63">/Hz</text>
<path d="M1842.2,3025 L1842.2,3002 L2543,3002 L2543,3025" fill="none" stroke="#231f20" stroke-width="4.6"/>
<text x="1785.4" y="3080.0" font-size="63">0.00</text>
<text x="2486.2" y="3080.0" font-size="63">0.03</text>
<text x="2133.4" y="3131" font-size="63" font-style="italic">f</text>
<text x="2178.4" y="3131" font-size="63">/Hz</text>
<path d="M2744.5,3025 L2744.5,3002 L3445.6,3002 L3445.6,3025" fill="none" stroke="#231f20" stroke-width="4.6"/>
<text x="2687.4" y="3080.0" font-size="63">0.00</text>
<text x="3388.5" y="3080.0" font-size="63">0.03</text>
<text x="3034.0" y="3131" font-size="63" font-style="italic">f</text>
<text x="3079.0" y="3131" font-size="63">/Hz</text>
</svg>
</body></html>
